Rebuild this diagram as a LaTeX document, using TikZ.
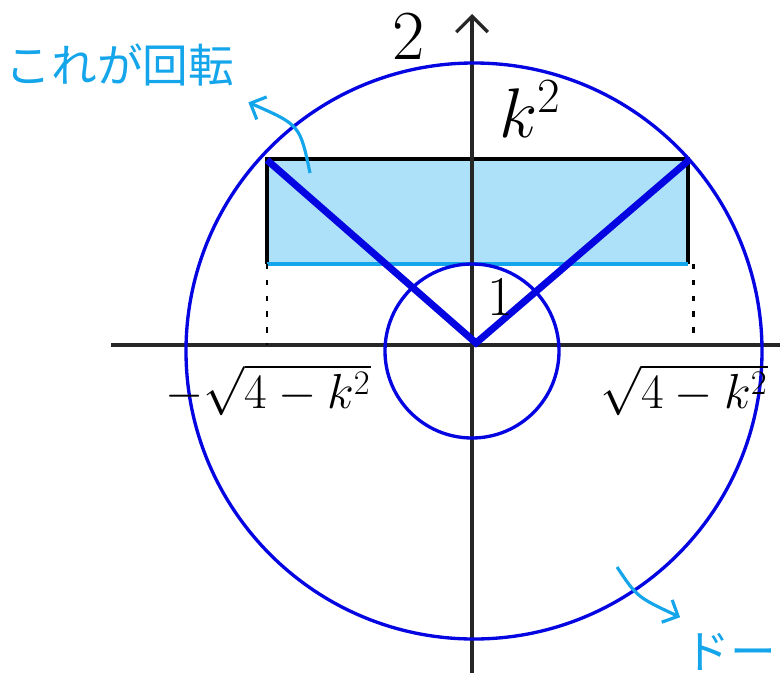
\RequirePackage{fix-cm}
\documentclass[tikz,border=0pt]{standalone}
\usepackage{fontspec}
\newfontfamily\jpfont{Noto Sans CJK JP}
\usetikzlibrary{arrows.meta}
\definecolor{handcyan}{RGB}{20,165,235}
\definecolor{rectfill}{RGB}{173,225,250}
\definecolor{handblue}{RGB}{5,5,225}
\begin{document}
\begin{tikzpicture}[x=0.02cm, y=0.02cm,
    axis/.style={line width=1.9pt, black!85},
    ring/.style={line width=1.9pt, handblue},
    memo/.style={handcyan, font=\jpfont\fontsize{26}{30}\selectfont},
    lbl/.style={font=\fontsize{28}{32}\selectfont},
    hint/.style={handcyan, line width=1.8pt, -{Straight Barb[length=7pt,width=14pt]}}]
    \useasboundingbox (-472,-342) rectangle (308,345);
    % 回転する長方形
    \fill[rectfill] (-205,81) rectangle (216,186);
    \draw[line width=1.9pt] (-205,81) -- (-205,186) -- (216,186) -- (216,81);
    \draw[line width=1.9pt, handcyan] (-205,81) -- (216,81);
    % 軸
    \draw[axis] (-361,0) -- (308,0);
    \draw[axis, -{Straight Barb[length=9pt,width=18pt]}] (0,-328) -- (0,331);
    % 円 (半径 1 と 2)
    \draw[ring] (2,-6) circle (288);
    \draw[ring] (0,-6) circle (87);
    % V字
    \draw[handblue, line width=4pt] (-205,185) -- (4,2) -- (217,185);
    % 点線
    \draw[line width=1.7pt, dash pattern=on 3pt off 6pt] (-205,81) -- (-205,0);
    \draw[line width=1.7pt, dash pattern=on 3pt off 6pt] (221,81) -- (221,6);
    % ラベル
    \node[lbl, font=\fontsize{40}{44}\selectfont, inner sep=1pt] (two) at (-63,308) {$2$};
    \node[lbl, font=\fontsize{40}{44}\selectfont] (ksq) at (58,236) {$k^2$};
    \node[lbl, font=\fontsize{32}{36}\selectfont] (one) at (28,48) {$1$};
    \node[lbl] (xneg) at (-204,-45) {$-\sqrt{4-k^2}$};
    \node[lbl] (xpos) at (212,-45) {$\sqrt{4-k^2}$};
    % メモ
    \node[memo] (kore) at (-352,280) {これが回転};
    \coordinate (rsrc) at (-162,172);
    \draw[hint] (rsrc) .. controls (-172,220) .. ([shift={(8,-10)}]kore.south east);
    \node[memo] (doo) at (258,-307) {ドー};
    \coordinate (dsrc) at (145,-222);
    \draw[hint] (dsrc) .. controls (165,-252) .. ([shift={(2,10)}]doo.north west);
\end{tikzpicture}
\end{document}
